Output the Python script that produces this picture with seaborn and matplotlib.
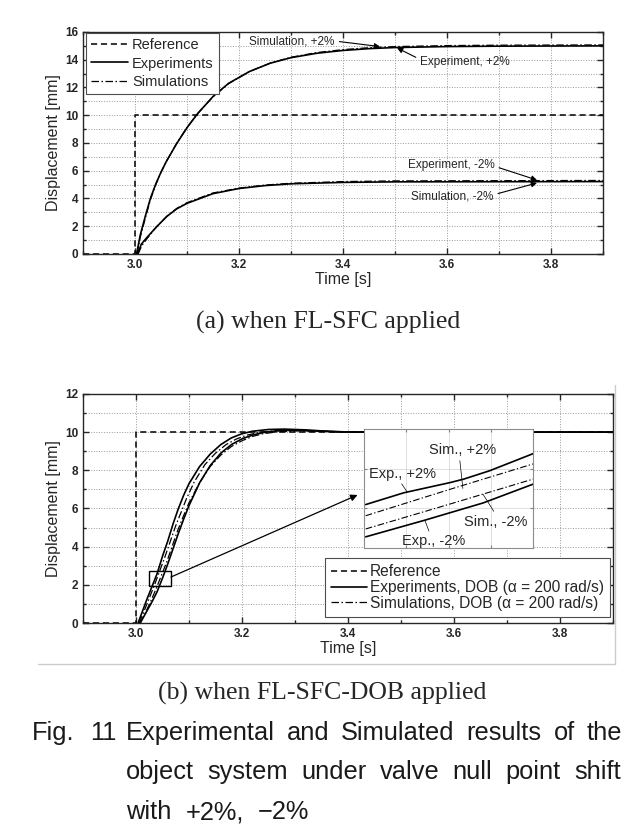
import numpy as np
import matplotlib
matplotlib.use("Agg")
import matplotlib.pyplot as plt
import matplotlib.ticker as mticker
from matplotlib.patches import Rectangle
from matplotlib.lines import Line2D
import seaborn as sns

W, H = 634, 838

# reference step (both plots)
ref_t = [2.9, 3.0, 3.0, 3.9]
ref_y = [0, 0, 10, 10]

# (a) FL-SFC
a_exp_p_t = [3.003, 3.01, 3.02, 3.03, 3.04, 3.05, 3.06, 3.08, 3.10, 3.12, 3.15, 3.18, 3.22, 3.26, 3.30, 3.35, 3.40, 3.45, 3.50, 3.60, 3.70, 3.90]
a_exp_p_y = [0.0, 1.35, 2.75, 4.05, 5.05, 5.9, 6.65, 7.95, 9.1, 10.1, 11.35, 12.3, 13.15, 13.75, 14.15, 14.47, 14.67, 14.8, 14.88, 14.95, 14.98, 15.0]
a_sim_p_t = [3.004, 3.01, 3.02, 3.03, 3.04, 3.05, 3.06, 3.08, 3.10, 3.12, 3.15, 3.18, 3.22, 3.26, 3.30, 3.35, 3.40, 3.45, 3.50, 3.60, 3.70, 3.90]
a_sim_p_y = [0.0, 1.2, 2.6, 3.95, 5.0, 5.88, 6.65, 7.97, 9.12, 10.1, 11.33, 12.28, 13.15, 13.76, 14.18, 14.52, 14.73, 14.87, 14.95, 15.02, 15.05, 15.07]
a_exp_m_t = [3.005, 3.012, 3.022, 3.04, 3.061, 3.08, 3.10, 3.15, 3.20, 3.25, 3.30, 3.40, 3.50, 3.90]
a_exp_m_y = [0.0, 0.7, 1.15, 1.9, 2.7, 3.25, 3.65, 4.35, 4.72, 4.93, 5.06, 5.16, 5.2, 5.22]
a_sim_m_t = [3.006, 3.013, 3.023, 3.041, 3.062, 3.081, 3.10, 3.15, 3.20, 3.25, 3.30, 3.40, 3.50, 3.90]
a_sim_m_y = [0.0, 0.6, 1.1, 1.95, 2.75, 3.3, 3.7, 4.4, 4.75, 4.97, 5.1, 5.22, 5.27, 5.3]

# (b) FL-SFC-DOB
b_exp_p_t = [3.004, 3.012, 3.02, 3.03, 3.04, 3.05, 3.06, 3.07, 3.08, 3.09, 3.10, 3.12, 3.14, 3.16, 3.18, 3.20, 3.22, 3.25, 3.28, 3.32, 3.36, 3.40, 3.50, 3.90]
b_exp_p_y = [0.0, 0.6, 1.2, 1.9, 2.6, 3.5, 4.3, 5.2, 6.0, 6.7, 7.3, 8.2, 8.85, 9.35, 9.7, 9.92, 10.05, 10.14, 10.16, 10.12, 10.05, 10.01, 10.0, 10.0]
b_sim_p_t = [3.006, 3.015, 3.025, 3.035, 3.045, 3.055, 3.065, 3.075, 3.085, 3.095, 3.11, 3.13, 3.15, 3.17, 3.19, 3.21, 3.23, 3.26, 3.30, 3.34, 3.38, 3.42, 3.90]
b_sim_p_y = [0.0, 0.6, 1.3, 2.0, 2.75, 3.5, 4.3, 5.1, 5.8, 6.5, 7.4, 8.3, 8.9, 9.35, 9.65, 9.85, 9.97, 10.07, 10.1, 10.06, 10.02, 10.0, 10.0]
b_sim_m_t = [3.008, 3.018, 3.028, 3.038, 3.048, 3.058, 3.068, 3.078, 3.088, 3.10, 3.12, 3.14, 3.16, 3.18, 3.20, 3.22, 3.24, 3.27, 3.31, 3.35, 3.40, 3.45, 3.90]
b_sim_m_y = [0.0, 0.55, 1.15, 1.8, 2.5, 3.2, 4.0, 4.8, 5.5, 6.3, 7.35, 8.2, 8.8, 9.25, 9.55, 9.78, 9.92, 10.03, 10.07, 10.05, 10.01, 10.0, 10.0]
b_exp_m_t = [3.008, 3.02, 3.03, 3.04, 3.05, 3.06, 3.07, 3.08, 3.09, 3.10, 3.12, 3.14, 3.16, 3.18, 3.20, 3.22, 3.24, 3.27, 3.30, 3.34, 3.38, 3.42, 3.90]
b_exp_m_y = [0.0, 0.6, 1.1, 1.65, 2.35, 3.1, 3.9, 4.7, 5.45, 6.15, 7.35, 8.25, 8.9, 9.35, 9.65, 9.85, 9.98, 10.08, 10.1, 10.06, 10.02, 10.0, 10.0]

# zoomed detail shown in the inset
in_exp_p_t = [3.0302, 3.0347, 3.0402, 3.0418, 3.0449, 3.0500]
in_exp_p_y = [2.192, 2.271, 2.340, 2.363, 2.420, 2.534]
in_sim_p_t = [3.0302, 3.0402, 3.0500]
in_sim_p_y = [2.117, 2.295, 2.465]
in_sim_m_t = [3.0302, 3.0402, 3.0500]
in_sim_m_y = [2.028, 2.196, 2.363]
in_exp_m_t = [3.0302, 3.0372, 3.0441, 3.0500]
in_exp_m_y = [1.975, 2.087, 2.203, 2.329]

caption_a = "(a) when FL-SFC applied"
caption_b = "(b) when FL-SFC-DOB applied"
fig_lines = ["Experimental and Simulated results of the",
             "object system under valve null point shift",
             "with +2%, \u22122%"]

sns.set_style("ticks")
plt.rcParams["font.family"] = ["Liberation Sans", "DejaVu Sans"]

fig = plt.figure(figsize=(W / 100, H / 100), dpi=100)


def px_axes(l, t, r, b):
    return fig.add_axes([l / W, 1 - b / H, (r - l) / W, (b - t) / H])


REF = dict(color="k", lw=1.1, linestyle=(0, (4, 2.5)))
EXP = dict(color="k", lw=1.2, linestyle="-")
SIM = dict(color="k", lw=0.9, linestyle=(0, (6, 2, 1.2, 2)))


def line(ax, t, y, st, label=None):
    sns.lineplot(x=t, y=y, ax=ax, estimator=None, sort=False, label=label, **st)


def style_axes(ax, ymax):
    ax.set_xlim(2.9, 3.9)
    ax.set_ylim(0, ymax)
    ax.xaxis.set_major_locator(mticker.MultipleLocator(0.2))
    ax.xaxis.set_minor_locator(mticker.MultipleLocator(0.1))
    ax.yaxis.set_major_locator(mticker.MultipleLocator(2))
    ax.yaxis.set_minor_locator(mticker.MultipleLocator(1))
    ax.xaxis.set_major_formatter(mticker.FormatStrFormatter("%.1f"))
    ax.grid(which="both", ls=":", color="0.6", lw=0.7)
    ax.tick_params(which="both", direction="in", top=True, right=True, labelsize=8.5, width=1, color="0.15")
    ax.tick_params(which="major", length=4)
    ax.tick_params(which="minor", length=2.5)
    plt.setp(ax.get_xticklabels() + ax.get_yticklabels(), fontweight="bold")
    for s in ax.spines.values():
        s.set_linewidth(1)
        s.set_color("0.15")
    ax.set_xlabel("Time [s]", fontsize=11.5, labelpad=1)
    ax.set_ylabel("Displacement [mm]", fontsize=11.5, labelpad=3)


# ---------- (a) ----------
ax1 = px_axes(83, 32, 603, 254)
line(ax1, ref_t, ref_y, REF, "Reference")
line(ax1, a_exp_p_t, a_exp_p_y, EXP, "Experiments")
line(ax1, a_sim_p_t, a_sim_p_y, SIM, "Simulations")
line(ax1, a_exp_m_t, a_exp_m_y, EXP)
line(ax1, a_sim_m_t, a_sim_m_y, SIM)
style_axes(ax1, 16)
h, l = ax1.get_legend_handles_labels()
leg = ax1.legend(h, l, loc="upper left", bbox_to_anchor=(0.006, 0.995), fontsize=10.5, fancybox=False,
                 edgecolor="0.3", framealpha=1, borderaxespad=0, handlelength=2.5, labelspacing=0.3,
                 borderpad=0.35, handletextpad=0.3)
leg.get_frame().set_linewidth(0.8)

arr = dict(arrowstyle="-|>", color="k", lw=0.8, mutation_scale=8, shrinkA=1, shrinkB=0)
ax1.annotate("Simulation, +2%", xy=(3.471, 14.95), xytext=(3.302, 15.35), fontsize=8.5, ha="center", va="center",
             arrowprops=dict(arr, relpos=(1, 0.5)))
ax1.annotate("Experiment, +2%", xy=(3.504, 14.85), xytext=(3.635, 13.84), fontsize=8.5, ha="center", va="center",
             arrowprops=dict(arr, relpos=(0, 0.7)))
ax1.annotate("Experiment, -2%", xy=(3.773, 5.33), xytext=(3.608, 6.41), fontsize=8.5, ha="center", va="center",
             arrowprops=dict(arr, relpos=(1, 0.4)))
ax1.annotate("Simulation, -2%", xy=(3.773, 5.12), xytext=(3.610, 4.18), fontsize=8.5, ha="center", va="center",
             arrowprops=dict(arr, relpos=(1, 0.6)))

# ---------- (b) ----------
ax2 = px_axes(83, 394, 613, 623)
line(ax2, ref_t, ref_y, REF, "Reference")
line(ax2, b_exp_p_t, b_exp_p_y, EXP, "Experiments, DOB (\u03b1 = 200 rad/s)")
line(ax2, b_sim_p_t, b_sim_p_y, SIM, "Simulations, DOB (\u03b1 = 200 rad/s)")
line(ax2, b_sim_m_t, b_sim_m_y, SIM)
line(ax2, b_exp_m_t, b_exp_m_y, EXP)
style_axes(ax2, 12)
h, l = ax2.get_legend_handles_labels()
leg = ax2.legend(h, l, loc="lower right", bbox_to_anchor=(0.994, 0.026), fontsize=11.2, fancybox=False,
                 edgecolor="0.3", framealpha=1, borderaxespad=0, handlelength=2.3, labelspacing=0.05,
                 borderpad=0.4, handletextpad=0.15)
leg.get_frame().set_linewidth(0.8)

ax2.add_patch(Rectangle((3.025, 1.95), 0.041, 0.8, fill=False, ec="k", lw=1, zorder=5))
ax2.annotate("", xy=(3.418, 6.71), xytext=(3.066, 2.41),
             arrowprops=dict(arrowstyle="-|>", color="k", lw=0.9, mutation_scale=10, shrinkA=0, shrinkB=0))

# inset
ax3 = px_axes(364, 429, 533, 548)
line(ax3, in_exp_p_t, in_exp_p_y, EXP)
line(ax3, in_sim_p_t, in_sim_p_y, dict(SIM, lw=0.8))
line(ax3, in_sim_m_t, in_sim_m_y, dict(SIM, lw=0.8))
line(ax3, in_exp_m_t, in_exp_m_y, EXP)
ax3.set_xlim(3.030, 3.050)
ax3.set_ylim(1.9, 2.7)
ax3.set_xticks(np.linspace(3.030, 3.050, 5)[1:-1])
ax3.set_yticks(np.linspace(1.9, 2.7, 4)[1:-1])
ax3.set_xticklabels([])
ax3.set_yticklabels([])
ax3.set_xlabel("")
ax3.set_ylabel("")
ax3.grid(color="0.85", lw=0.6)
ax3.tick_params(direction="in", length=2, top=True, right=True, color="0.5")
for s in ax3.spines.values():
    s.set_color("0.55")
    s.set_linewidth(0.8)

lead = dict(arrowstyle="-", color="k", lw=0.5, shrinkA=0, shrinkB=0)
ax3.annotate("Sim., +2%", xy=(3.0417, 2.30), xytext=(3.0417, 2.556), fontsize=10.5, ha="center", va="center",
             arrowprops=dict(lead, relpos=(0.45, 0)))
ax3.annotate("Exp., +2%", xy=(3.0351, 2.277), xytext=(3.0346, 2.40), fontsize=10.5, ha="center", va="center",
             arrowprops=dict(lead, relpos=(0.45, 0)))
ax3.annotate("Sim., -2%", xy=(3.0441, 2.26), xytext=(3.0456, 2.078), fontsize=10.5, ha="center", va="center",
             arrowprops=dict(lead, relpos=(0.5, 1)))
ax3.annotate("Exp., -2%", xy=(3.0372, 2.087), xytext=(3.0382, 1.945), fontsize=10.5, ha="center", va="center",
             arrowprops=dict(lead, relpos=(0.45, 1)))

# captions
fig.text(328 / W, 1 - 322 / H, caption_a, family="Liberation Serif", fontsize=18.5, ha="center", va="center")
fig.text(322 / W, 1 - 693 / H, caption_b, family="Liberation Serif", fontsize=18.5, ha="center", va="center")

# panel border of (b)
fig.add_artist(Line2D([38 / W, 615 / W], [1 - 664 / H, 1 - 664 / H], color="0.8", lw=1))
fig.add_artist(Line2D([615 / W, 615 / W], [1 - 385 / H, 1 - 664 / H], color="0.8", lw=1))

renderer = fig.canvas.get_renderer()


def put_words(words, y, x0, x1=None, gap=14, size=18.3):
    txts = [fig.text(0, 1 - y / H, w, fontsize=size, ha="left", va="center", color="#1a1a1a") for w in words]
    widths = [t.get_window_extent(renderer).width for t in txts]
    if x1 is not None and len(words) > 1:
        gap = (x1 - x0 - sum(widths)) / (len(words) - 1)
    x = x0
    for t, w in zip(txts, widths):
        t.set_x(x / W)
        x += w + gap


put_words(["Fig."], 733, 32)
put_words(["11"], 733, 90)
put_words(fig_lines[0].split(), 733, 126, 622)
put_words(fig_lines[1].split(), 772, 126, 621)
put_words(fig_lines[2].split(), 812, 126)

fig.savefig("out.png", dpi=100)
